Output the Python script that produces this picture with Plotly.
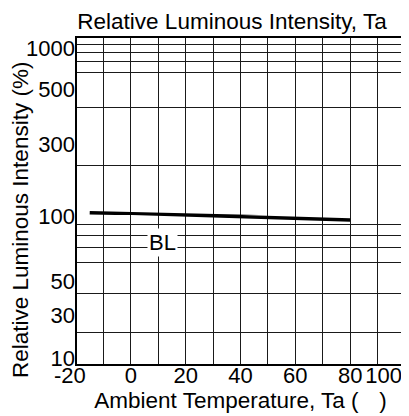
import math
import plotly.graph_objects as go

# ---- data ----
temperature = [-15, 0, 25, 40, 60, 80]             # Ambient temperature, Ta (°C)
rel_intensity = [103.3, 102, 100, 98.3, 96.3, 94.7]  # Relative luminous intensity (%)
series_name = "BL"
label_point = (11.5, 74.6)                          # where the "BL" label sits (x, %)

x_ticks = [-20, -10, 0, 10, 20, 30, 40, 50, 60, 70, 80, 90, 100]
x_labels = ["-20\u00a0\u00a0", "", "0", "", "20", "", "40", "", "60", "", "80", "", "100" + "\u00a0" * 7]

# the printed grid is a hand-drawn log grid; it is reproduced as stacked log segments
# (range in %, tick values, tick labels)
seg_ranges = [(10, 30), (30, 50), (50, 100), (100, 300), (300, 500), (500, 1000)]
seg_ticks = [[10, 20], [30, 40, 50], [60, 70, 80, 90, 100], [200, 300], [400, 500],
             [600, 700, 800, 900, 1000]]
seg_labels = [["10", ""], ["30", "", "50"], ["", "", "", "", "100"], ["", "300"], ["", "500"],
              ["", "", "", "", "1000"]]

FONT = "Liberation Sans, Arial, sans-serif"
GRID = "#1a1a1a"

# layout (pixels of the page): plot top 37, bottom 365; segment boundaries
seg_edges_px = [365, 313, 279, 215, 137, 85, 37]
label_shift = [-7, 2, 1, 7, 4, 11]
PLOT_TOP, PLOT_BOTTOM = 37, 365
PH = PLOT_BOTTOM - PLOT_TOP

# page has an 8px body margin: figure is sized/offset to compensate
W, H, OFF = 401, 408, 8

fig = go.Figure()
layout = dict(
    width=W, height=H,
    margin=dict(l=76 - OFF, r=4, t=PLOT_TOP - OFF, b=51, autoexpand=False),
    paper_bgcolor="white", plot_bgcolor="white",
    font=dict(family=FONT, size=21, color="black"),
    title=dict(text="Relative Luminous Intensity, Ta", x=(232 - OFF) / W, xref="container",
               xanchor="center", y=1 - (21 - OFF) / H, yanchor="middle",
               font=dict(family=FONT, size=22.5, color="black")),
)

for i, (rng, tv, tt) in enumerate(zip(seg_ranges, seg_ticks, seg_labels)):
    n = "" if i == 0 else str(i + 1)
    fig.add_trace(go.Scatter(x=temperature, y=rel_intensity, mode="lines",
                             line=dict(color="black", width=3.4),
                             xaxis="x" + n, yaxis="y" + n, showlegend=False,
                             name=series_name))
    d0 = (PLOT_BOTTOM - seg_edges_px[i]) / PH
    d1 = (PLOT_BOTTOM - seg_edges_px[i + 1]) / PH
    xa = dict(range=[-20, 100], tickmode="array", tickvals=x_ticks,
              showgrid=True, gridcolor=GRID, gridwidth=1, zeroline=False,
              ticks="", showline=False, automargin=False, anchor="y" + n,
              domain=[0, 1])
    if i == 0:
        xa.update(ticktext=x_labels, tickfont=dict(size=22), ticklabeloverflow="allow",
                  ticklabelstandoff=-5,
                  title=dict(text="Ambient Temperature, Ta (" + "\u00a0" * 3 + "\u200a)",
                             standoff=4, font=dict(size=22.5)))
    else:
        xa.update(matches="x", showticklabels=False)
    ya = dict(type="log", range=[math.log10(rng[0]), math.log10(rng[1])],
              domain=[d0, d1], anchor="x" + n, tickmode="array", tickvals=tv,
              ticktext=tt, showgrid=True, gridcolor=GRID, gridwidth=1,
              zeroline=False, ticks="", tickfont=dict(size=22), automargin=False,
              ticklabeloverflow="allow", ticklabelshift=label_shift[i])
    layout["xaxis" + n] = xa
    layout["yaxis" + n] = ya

layout["shapes"] = [dict(type="rect", xref="paper", yref="paper", x0=0, x1=1, y0=0, y1=1,
                         line=dict(color="black", width=2), fillcolor="rgba(0,0,0,0)")]
layout["annotations"] = [
    dict(text=series_name, x=label_point[0], y=math.log10(label_point[1]),
         xref="x3", yref="y3", showarrow=False, bgcolor="white", borderpad=1,
         font=dict(family=FONT, size=22, color="black")),
    dict(text="Relative Luminous Intensity (%)", textangle=-90,
         xref="paper", yref="paper", x=(20 - 76) / 329, y=1 - (220 - 37) / 328,
         xanchor="center", yanchor="middle", showarrow=False,
         font=dict(family=FONT, size=22.5, color="black")),
]

fig.update_layout(**layout)
fig.write_html("out.html")
